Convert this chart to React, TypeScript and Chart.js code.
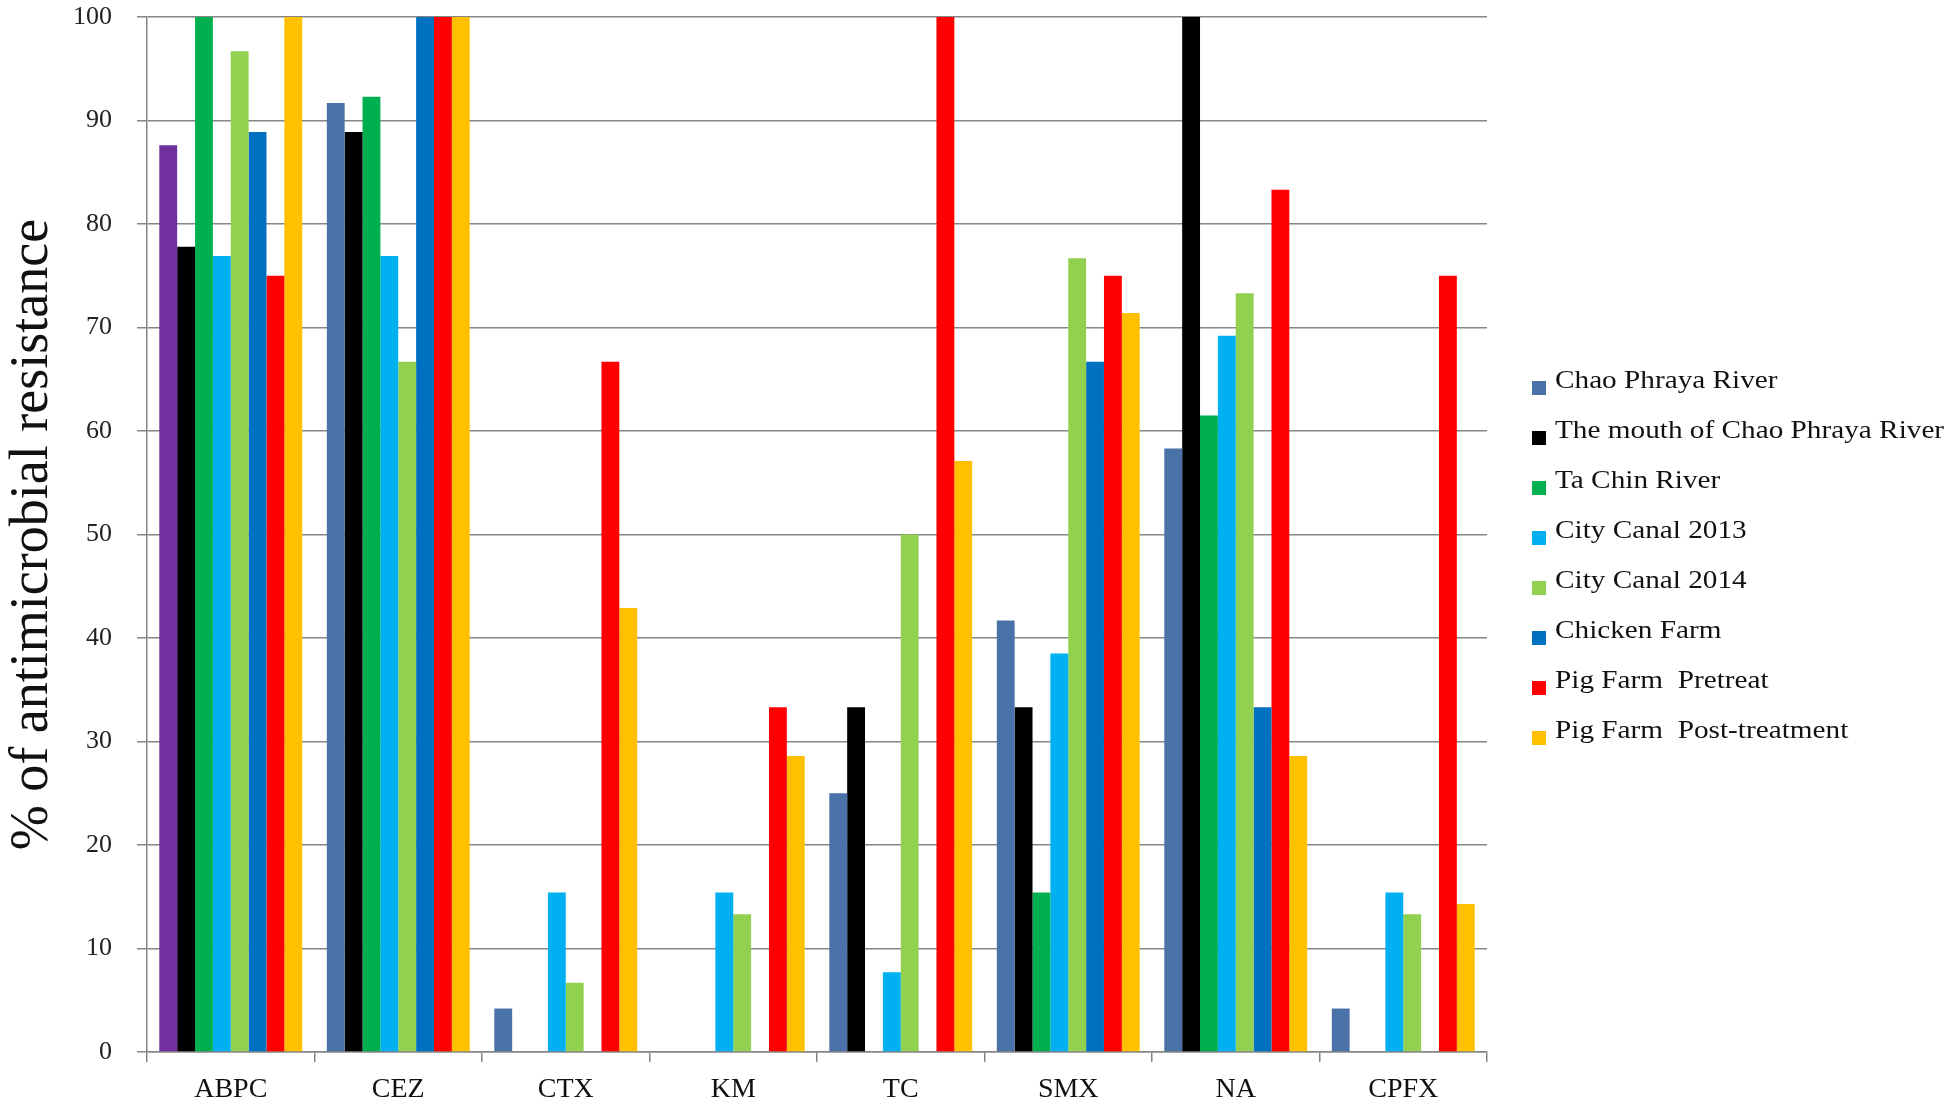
import React, { useEffect, useRef } from "react";
import { Chart, registerables } from "chart.js";

Chart.register(...registerables);

const categories = ["ABPC", "CEZ", "CTX", "KM", "TC", "SMX", "NA", "CPFX"];
const seriesNames = [
  "Chao Phraya River",
  "The mouth of Chao Phraya River",
  "Ta Chin River",
  "City Canal 2013",
  "City Canal 2014",
  "Chicken Farm",
  "Pig Farm  Pretreat",
  "Pig Farm  Post-treatment",
];
const chaoPhraya = [87.6, 91.7, 4.2, 0, 25.0, 41.7, 58.3, 4.2];
const mouthChaoPhraya = [77.8, 88.9, 0, 0, 33.3, 33.3, 100, 0];
const taChin = [100, 92.3, 0, 0, 0, 15.4, 61.5, 0];
const cityCanal2013 = [76.9, 76.9, 15.4, 15.4, 7.7, 38.5, 69.2, 15.4];
const cityCanal2014 = [96.7, 66.7, 6.7, 13.3, 50.0, 76.7, 73.3, 13.3];
const chickenFarm = [88.9, 100, 0, 0, 0, 66.7, 33.3, 0];
const pigPretreat = [75, 100, 66.7, 33.3, 100, 75, 83.3, 75];
const pigPost = [100, 100, 42.9, 28.6, 57.1, 71.4, 28.6, 14.3];
const yTicks = [0, 10, 20, 30, 40, 50, 60, 70, 80, 90, 100];
const yTitle = "% of antimicrobial resistance";

const seriesValues = [
  chaoPhraya,
  mouthChaoPhraya,
  taChin,
  cityCanal2013,
  cityCanal2014,
  chickenFarm,
  pigPretreat,
  pigPost,
];
const seriesColors = [
  "#4A72A8",
  "#000000",
  "#00B050",
  "#00B0F0",
  "#92D050",
  "#0070C0",
  "#FF0000",
  "#FFC000",
];
const ABPC_FIRST_COLOR = "#7030A0";

const FONT = "'Liberation Serif', 'Times New Roman', serif";

const legendPlugin = {
  id: "customLegend",
  afterDraw(chart: any) {
    const ctx = chart.ctx as CanvasRenderingContext2D;
    ctx.save();
    const boxX = 1532;
    const textX = 1555;
    const baseY = 388;
    const step = 50;
    seriesNames.forEach((name, i) => {
      const y = baseY + i * step;
      ctx.fillStyle = seriesColors[i];
      ctx.fillRect(boxX, y - 7, 14, 14);
      ctx.save();
      ctx.translate(textX, y);
      ctx.scale(1.17, 1);
      ctx.font = `25px ${FONT}`;
      ctx.fillStyle = "#111111";
      ctx.textBaseline = "alphabetic";
      ctx.textAlign = "left";
      ctx.fillText(name, 0, 0);
      ctx.restore();
    });
    ctx.restore();
  },
};

const whiteBg = {
  id: "whiteBg",
  beforeDraw(chart: any) {
    const ctx = chart.ctx;
    ctx.save();
    ctx.fillStyle = "#ffffff";
    ctx.fillRect(0, 0, chart.width, chart.height);
    ctx.restore();
  },
};

export default function App() {
  const canvasRef = useRef<HTMLCanvasElement | null>(null);

  useEffect(() => {
    if (!canvasRef.current) return;
    const datasets = seriesValues.map((vals, i) => ({
      label: seriesNames[i],
      data: vals,
      backgroundColor:
        i === 0
          ? categories.map((_, j) => (j === 0 ? ABPC_FIRST_COLOR : seriesColors[0]))
          : seriesColors[i],
      borderWidth: 0,
      categoryPercentage: 0.853,
      barPercentage: 1.0,
    }));
    const chart = new Chart(canvasRef.current, {
      type: "bar",
      data: { labels: categories, datasets },
      options: {
        animation: false,
        responsive: true,
        maintainAspectRatio: false,
        layout: { padding: { left: 0, top: 17, right: 467, bottom: 0 } },
        plugins: {
          legend: { display: false },
          tooltip: { enabled: false },
        },
        scales: {
          x: {
            afterFit: (scale: any) => {
              scale.height = 52;
              scale.paddingLeft = 0;
              scale.paddingRight = 0;
            },
            grid: {
              display: true,
              drawOnChartArea: false,
              drawTicks: true,
              tickLength: 10,
              color: "#868686",
              lineWidth: 1.5,
              offset: true,
            },
            border: { display: true, color: "#868686", width: 1.5 },
            ticks: {
              color: "#111111",
              font: { family: FONT, size: 28 },
              padding: 11,
              maxRotation: 0,
            },
          },
          y: {
            min: 0,
            max: 100,
            afterFit: (scale: any) => {
              scale.width = 147;
              scale.paddingTop = 0;
              scale.paddingBottom = 0;
            },
            afterBuildTicks: (scale: any) => {
              scale.ticks = yTicks.map((v) => ({ value: v }));
            },
            grid: {
              color: "#868686",
              lineWidth: 1.5,
              tickLength: 10,
              drawTicks: true,
            },
            border: { display: true, color: "#868686", width: 1.5 },
            ticks: {
              color: "#222222",
              font: { family: FONT, size: 26 },
              padding: 25,
            },
            title: {
              display: true,
              text: yTitle,
              color: "#111111",
              font: { family: FONT, size: 54, lineHeight: 1 },
              padding: { top: 6, bottom: 0 },
            },
          },
        },
      },
      plugins: [whiteBg, legendPlugin],
    });
    return () => chart.destroy();
  }, []);

  return (
    <div
      style={{
        position: "fixed",
        left: 0,
        top: 0,
        width: "1954px",
        height: "1104px",
        background: "#fff",
      }}
    >
      <canvas ref={canvasRef} />
    </div>
  );
}
